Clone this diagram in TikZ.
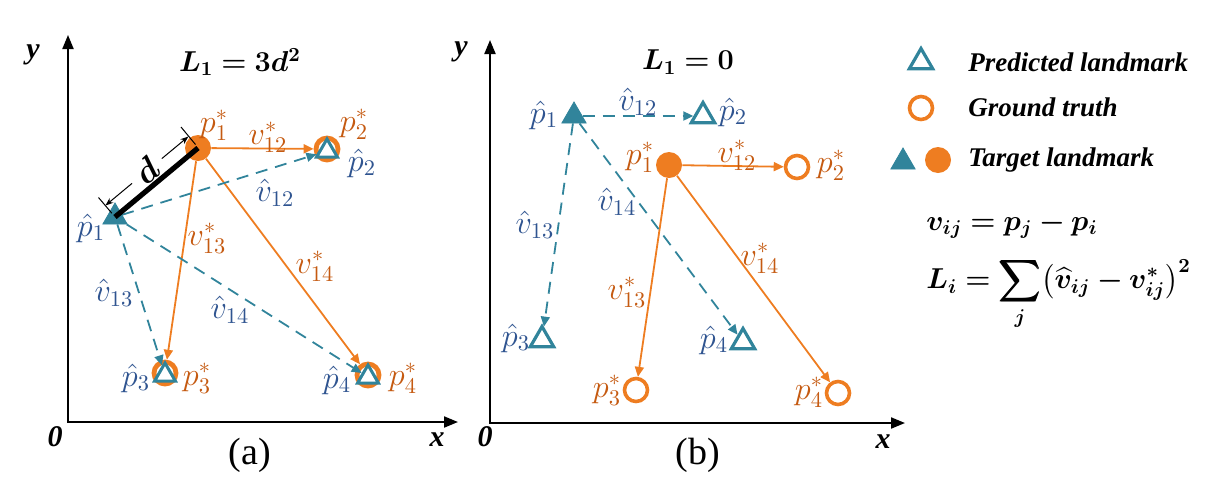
\documentclass[tikz,border=0pt]{standalone}
\usepackage{amsmath}
\usepackage{bm}
\usepackage{fontspec}
\setmainfont{Liberation Serif}
\usetikzlibrary{arrows.meta,shapes.geometric}
\definecolor{orangeF}{HTML}{EE7D21}
\definecolor{orangeTxt}{HTML}{C55A11}
\definecolor{tealF}{HTML}{31849B}
\definecolor{blueTxt}{HTML}{2F5490}
\begin{document}
\begin{tikzpicture}[x=0.5pt,y=-0.5pt,
  lbl/.style={font=\fontsize{14.3}{14.3}\selectfont, inner sep=0pt, scale=1.12, transform shape},
  ol/.style={lbl, text=orangeTxt},
  bl/.style={lbl, text=blueTxt},
  ax/.style={font=\fontsize{15}{15}\selectfont\bfseries\itshape, inner sep=0pt},
  tri/.style={regular polygon, regular polygon sides=3, inner sep=0pt},
  ftri/.style={tri, fill=tealF, draw=tealF, line width=0.4pt, minimum size=14pt},
  htri/.style={tri, draw=tealF, line width=1.6pt, minimum size=13.5pt},
  stri/.style={tri, draw=tealF, fill=white, line width=1.5pt, minimum size=12pt},
  fcirc/.style={circle, fill=orangeF, minimum size=13pt, inner sep=0pt},
  hcirc/.style={circle, draw=orangeF, line width=1.8pt, minimum size=11.5pt, inner sep=0pt},
  rcirc/.style={circle, draw=orangeF, fill=white, line width=2.4pt, minimum size=11pt, inner sep=0pt},
  oarr/.style={draw=orangeF, line width=0.9pt, -{Triangle[length=5pt,width=4.5pt]}},
  tarr/.style={draw=tealF, line width=0.9pt, dash pattern=on 6pt off 4pt, -{Triangle[length=5pt,width=4.5pt]}},
  axline/.style={line width=1pt, {Triangle[length=7pt,width=5.5pt]}-{Triangle[length=7pt,width=5.5pt]}},
  dimarr/.style={line width=0.5pt, -{Stealth[length=4pt,width=3pt]}},
  legtxt/.style={font=\fontsize{13.5}{13.5}\selectfont\bfseries\itshape, anchor=west, inner sep=0pt},
  ttl/.style={font=\fontsize{14}{14}\selectfont, inner sep=0pt},
  captxt/.style={font=\fontsize{19}{19}\selectfont, inner sep=0pt},
  eqtxt/.style={font=\fontsize{14.5}{14.5}\selectfont, anchor=west, inner sep=0pt}
]
\useasboundingbox (0,0) rectangle (1230,488);

% ---------------- panel (a) ----------------
\coordinate (ya) at (68,35);
\coordinate (oa) at (68,422);
\coordinate (xa) at (458,422);
\draw[axline] (ya) -- (oa) -- (xa);
\node[ax] (ylaba) at (33,55) {y};
\node[ax] (zlaba) at (55,437) {0};
\node[ax] (xlaba) at (437,440) {x};
\node[ttl] (titlea) at (240,62) {$\bm{L_1 = 3d^2}$};
\node[captxt] (capa) at (250,455) {(a)};

\node[ftri] (t1a) at (115,217) {};
\node[fcirc] (c1a) at (198,148) {};
\node[rcirc] (c2a) at (327,149) {};
\node[stri] (t2a) at (327,151) {};
\node[rcirc] (c3a) at (165,373) {};
\node[stri] (t3a) at (165,375) {};
\node[rcirc] (c4a) at (368,375) {};
\node[stri] (t4a) at (368,377) {};

\draw[oarr] (c1a) -- (c2a);
\draw[oarr] (c1a) -- (c3a);
\draw[oarr] (c1a) -- (c4a);
\draw[tarr] (t1a) -- (t2a);
\draw[tarr] (t1a) -- (t3a);
\draw[tarr] (t1a) -- (t4a);

% distance d
\draw[line width=2.6pt] (t1a.center) -- (c1a.center);
\coordinate (eA1) at (111.8,213.2);
\coordinate (eA2) at (98.5,197.5);
\coordinate (eB1) at (195.5,144.5);
\coordinate (eB2) at (181,127);
\draw[line width=0.5pt] (eA1) -- (eA2);
\draw[line width=0.5pt] (eB1) -- (eB2);
\coordinate (dA) at (105.4,205.5);
\coordinate (dB) at (188.4,136.5);
\node[circle, inner sep=0pt, minimum size=19pt, rotate=40, font=\fontsize{16}{16}\selectfont] (dlab) at (146.9,171) {$\bm d$};
\draw[dimarr] (dlab) -- (dA);
\draw[dimarr] (dlab) -- (dB);

\node[bl] (hp1a) at (91,228) {$\hat p_1$};
\node[ol] (sp1a) at (214,125) {$p_1^*$};
\node[ol] (sp2a) at (354,124) {$p_2^*$};
\node[bl] (hp2a) at (362,163) {$\hat p_2$};
\node[bl] (hp3a) at (136,378) {$\hat p_3$};
\node[ol] (sp3a) at (197,378) {$p_3^*$};
\node[bl] (hp4a) at (337,380) {$\hat p_4$};
\node[ol] (sp4a) at (403,378) {$p_4^*$};
\node[ol] (sv12a) at (268,137) {$v_{12}^*$};
\node[bl] (hv12a) at (275,193) {$\hat v_{12}$};
\node[ol] (sv13a) at (207,238) {$v_{13}^*$};
\node[ol] (sv14a) at (315,266) {$v_{14}^*$};
\node[bl] (hv13a) at (114,293) {$\hat v_{13}$};
\node[bl] (hv14a) at (230,310) {$\hat v_{14}$};

% ---------------- panel (b) ----------------
\coordinate (yb) at (490,40);
\coordinate (ob) at (490,423);
\coordinate (xb) at (905,423);
\draw[axline] (yb) -- (ob) -- (xb);
\node[ax] (ylabb) at (461,52) {y};
\node[ax] (zlabb) at (485,437) {0};
\node[ax] (xlabb) at (883,442) {x};
\node[ttl] (titleb) at (688,62) {$\bm{L_1 = 0}$};
\node[captxt] (capb) at (698,455) {(b)};

\node[ftri] (t1b) at (574,116) {};
\node[htri] (t2b) at (703,116) {};
\node[fcirc] (c1b) at (669,165) {};
\node[hcirc] (c2b) at (797,167) {};
\node[htri] (t3b) at (542,340) {};
\node[htri] (t4b) at (743,342) {};
\node[hcirc] (c3b) at (636,390) {};
\node[hcirc] (c4b) at (838,393) {};

\draw[oarr] (c1b) -- (c2b);
\draw[oarr] (c1b) -- (c3b);
\draw[oarr] (c1b) -- (c4b);
\draw[tarr] (t1b) -- (t2b);
\draw[tarr] (t1b) -- (t3b);
\draw[tarr] (t1b) -- (t4b);

\node[bl] (hp1b) at (544,115) {$\hat p_1$};
\node[bl] (hv12b) at (638,102) {$\hat v_{12}$};
\node[bl] (hp2b) at (733,112) {$\hat p_2$};
\node[ol] (sp1b) at (640,157) {$p_1^*$};
\node[ol] (sv12b) at (737,155) {$v_{12}^*$};
\node[ol] (sp2b) at (831,165) {$p_2^*$};
\node[bl] (hv14b) at (617,202) {$\hat v_{14}$};
\node[bl] (hv13b) at (535,225) {$\hat v_{13}$};
\node[ol] (sv14b) at (760,258) {$v_{14}^*$};
\node[ol] (sv13b) at (627,292) {$v_{13}^*$};
\node[bl] (hp3b) at (516,338) {$\hat p_3$};
\node[bl] (hp4b) at (714,340) {$\hat p_4$};
\node[ol] (sp3b) at (607,390) {$p_3^*$};
\node[ol] (sp4b) at (809,392) {$p_4^*$};

% ---------------- legend ----------------
\node[htri] (legtri) at (921,62) {};
\node[legtxt] (legpred) at (968,62) {Predicted landmark};
\node[hcirc] (legcirc) at (921,108) {};
\node[legtxt] (leggt) at (968,107) {Ground truth};
\node[ftri] (legftri) at (903,162) {};
\node[fcirc] (legfcirc) at (938,160) {};
\node[legtxt] (legtgt) at (968,160) {Target landmark};

\node[eqtxt] (eqv) at (926,225) {$\bm{v_{ij} = p_j - p_i}$};
\node[eqtxt] (eqL) at (926,294) {$\displaystyle \bm{L_i = \sum_j \bigl(\widehat{v}_{ij} - v_{ij}^*\bigr)^2}$};
\end{tikzpicture}
\end{document}
